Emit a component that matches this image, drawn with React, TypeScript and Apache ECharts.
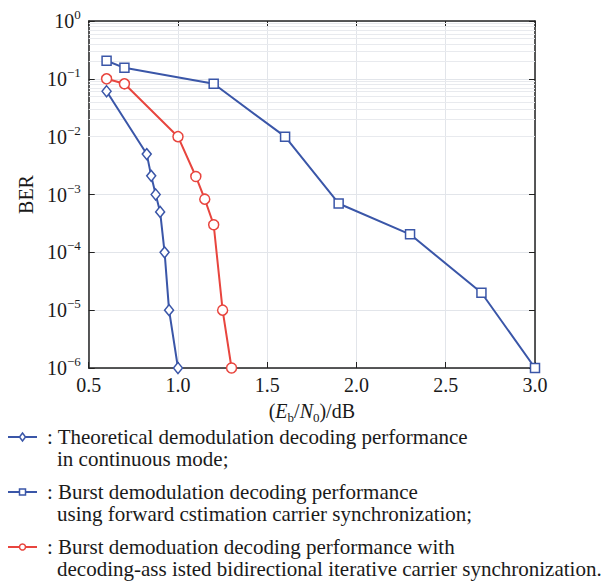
import React, { useEffect, useRef } from "react";
import * as echarts from "echarts";

// Eb/N0 (dB) and BER values
const theoX = [0.6, 0.825, 0.85, 0.875, 0.9, 0.925, 0.95, 1.0];
const theoY = [0.061, 5.0e-3, 2.1e-3, 1.0e-3, 5.0e-4, 1.0e-4, 1.0e-5, 1.0e-6];
const fwdX = [0.6, 0.7, 1.2, 1.6, 1.9, 2.3, 2.7, 3.0];
const fwdY = [0.205, 0.155, 0.082, 0.01, 7.0e-4, 2.05e-4, 2.0e-5, 1.0e-6];
const iterX = [0.6, 0.7, 1.0, 1.1, 1.15, 1.2, 1.25, 1.3];
const iterY = [0.1, 0.082, 0.01, 2.05e-3, 8.3e-4, 3.0e-4, 1.0e-5, 1.0e-6];

const legendLines = [
  [": Theoretical demodulation decoding performance", "in continuous mode;"],
  [": Burst demodulation decoding performance", "using forward cstimation carrier synchronization;"],
  [": Burst demoduation decoding performance with", "decoding-ass isted bidirectional iterative carrier synchronization."],
];

const BLUE = "#3a56a8";
const RED = "#e8453e";
const FONT = "Liberation Serif";
const TXT = "#1a1a1a";

const minorVals: number[] = [];
for (let n = -6; n <= -1; n++) {
  for (let k = 2; k <= 9; k++) minorVals.push(k * Math.pow(10, n));
}

const zip = (xs: number[], ys: number[]) => xs.map((x, i) => [x, ys[i]]);

export default function App() {
  const ref = useRef<HTMLDivElement>(null);
  useEffect(() => {
    const chart = echarts.init(ref.current!, null, { renderer: "svg" });
    const yLabel = (v: number) => {
      const e = Math.round(Math.log10(v));
      return `{b|10}{s|${e === 0 ? "0" : "\u2212" + Math.abs(e)}}`;
    };
    const legendColors = [BLUE, BLUE, RED];
    const legendSymbols = ["diamond", "rect", "circle"];
    const rowY = [429, 484, 539];
    const graphics: any[] = [];
    rowY.forEach((y, i) => {
      const c = legendColors[i];
      graphics.push({
        type: "line",
        shape: { x1: 0, y1: y, x2: 29, y2: y },
        style: { stroke: c, lineWidth: 2 },
      });
      if (legendSymbols[i] === "diamond") {
        graphics.push({
          type: "polygon",
          shape: { points: [[14.5, y - 4], [17.5, y], [14.5, y + 4], [11.5, y]] },
          style: { fill: "#fff", stroke: c, lineWidth: 1.5 },
        });
      } else if (legendSymbols[i] === "rect") {
        graphics.push({
          type: "rect",
          shape: { x: 11.5, y: y - 3, width: 6, height: 6 },
          style: { fill: "#fff", stroke: c, lineWidth: 1.5 },
        });
      } else {
        graphics.push({
          type: "circle",
          shape: { cx: 14.5, cy: y, r: 3 },
          style: { fill: "#fff", stroke: c, lineWidth: 1.5 },
        });
      }
      graphics.push({
        type: "text",
        x: 39,
        y,
        style: { text: legendLines[i][0], font: `21px "${FONT}"`, fill: TXT, verticalAlign: "middle" },
      });
      graphics.push({
        type: "text",
        x: 49,
        y: y + 22,
        style: { text: legendLines[i][1], font: `21px "${FONT}"`, fill: TXT, verticalAlign: "middle" },
      });
    });

    const lineSeries = (name: string, xs: number[], ys: number[], color: string, symbol: string, size: any) => ({
      name,
      type: "line",
      data: zip(xs, ys),
      symbol,
      symbolSize: size,
      z: 5,
      lineStyle: { color, width: 2 },
      itemStyle: { color: "#fff", borderColor: color, borderWidth: 1.5 },
    });

    chart.setOption({
      animation: false,
      backgroundColor: "#fff",
      textStyle: { fontFamily: FONT },
      grid: { left: 72, top: 7, width: 455, height: 353, show: false },
      graphic: graphics,
      xAxis: [
        {
          type: "value",
          min: 0.5,
          max: 3.0,
          interval: 0.5,
          name: "({i|E}{sub|b}/{i|N}{sub|0})/dB",
          nameLocation: "middle",
          nameGap: 30,
          nameTextStyle: {
            fontFamily: FONT,
            fontSize: 20,
            color: TXT,
            rich: {
              i: { fontFamily: FONT, fontStyle: "italic", fontSize: 20, color: TXT, lineHeight: 26, verticalAlign: "middle" },
              sub: { fontFamily: FONT, fontSize: 13, color: TXT, lineHeight: 13, verticalAlign: "bottom" },
            },
          },
          axisLine: { show: true, onZero: false, lineStyle: { color: "#222", width: 1.5 } },
          axisTick: { show: true, inside: true, length: 6, lineStyle: { color: "#222" } },
          axisLabel: {
            fontFamily: FONT,
            fontSize: 20,
            color: TXT,
            margin: 7,
            formatter: (v: number) => v.toFixed(1),
          },
          splitLine: { show: true, lineStyle: { color: "#e2e5ea", width: 1 } },
        },
        {
          type: "value",
          position: "top",
          min: 0.5,
          max: 3.0,
          interval: 0.5,
          axisLine: { show: true, onZero: false, lineStyle: { color: "#222", width: 1.5 } },
          axisTick: { show: true, inside: true, length: 6, lineStyle: { color: "#222" } },
          axisLabel: { show: false },
          splitLine: { show: false },
        },
      ],
      yAxis: [
        {
          type: "log",
          logBase: 10,
          min: 1e-6,
          max: 1,
          name: "BER",
          nameLocation: "middle",
          nameGap: 47,
          nameRotate: 90,
          nameTextStyle: { fontFamily: FONT, fontSize: 20, color: TXT },
          axisLine: { show: true, lineStyle: { color: "#222", width: 1.5 } },
          axisTick: { show: true, inside: true, length: 6, lineStyle: { color: "#222" } },
          axisLabel: {
            margin: 8,
            formatter: yLabel,
            rich: {
              b: { fontFamily: FONT, fontSize: 20, color: TXT, lineHeight: 26, verticalAlign: "middle" },
              s: { fontFamily: FONT, fontSize: 13, color: TXT, lineHeight: 13, verticalAlign: "top" },
            },
          },
          splitLine: { show: true, lineStyle: { color: "#e2e5ea", width: 1 } },
        },
        {
          type: "log",
          logBase: 10,
          min: 1e-6,
          max: 1,
          position: "right",
          axisLine: { show: true, lineStyle: { color: "#222", width: 1.5 } },
          axisTick: { show: true, inside: true, length: 6, lineStyle: { color: "#222" } },
          axisLabel: { show: false },
          splitLine: { show: false },
        },
      ],
      series: [
        {
          name: "minorGrid",
          type: "line",
          data: [[0.5, 1]],
          symbol: "none",
          silent: true,
          z: 1,
          lineStyle: { opacity: 0 },
          markLine: {
            silent: true,
            symbol: "none",
            label: { show: false },
            lineStyle: { color: "#e8eaee", width: 1, type: "solid" },
            data: minorVals.map((v) => ({ yAxis: v })),
          },
        },
        lineSeries("Theoretical", theoX, theoY, BLUE, "diamond", [9, 11]),
        lineSeries("Forward estimation", fwdX, fwdY, BLUE, "rect", 9),
        lineSeries("Iterative", iterX, iterY, RED, "circle", 10),
      ],
    });
    return () => chart.dispose();
  }, []);
  return <div ref={ref} style={{ width: 601, height: 575 }} />;
}
